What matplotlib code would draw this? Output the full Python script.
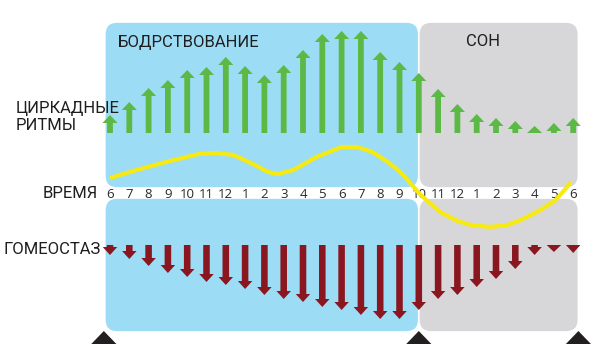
import matplotlib.pyplot as plt
from matplotlib.patches import FancyBboxPatch, Polygon

# hours along the bottom band
hours = ['6', '7', '8', '9', '10', '11', '12', '1', '2', '3', '4', '5', '6', '7', '8', '9',
         '10', '11', '12', '1', '2', '3', '4', '5', '6']
# circadian rhythm arrows (up) and homeostasis arrows (down), lengths in px
circadian = [18, 31, 45, 53, 63, 66, 76, 67, 58, 68, 83, 99, 102, 102, 81, 71, 60, 44, 29, 19, 15, 12, 7, 10, 15]
homeostasis = [10, 14, 21, 28, 32, 37, 40, 44, 50, 54, 57, 62, 65, 70, 74, 74, 65, 54, 50, 42, 34, 24, 10, 7, 8]
# yellow curve, (hour position, level)
curve_x = [0, 1.2, 2.9, 4.6, 5.5, 6.4, 7.3, 8.2, 8.7, 9.5, 10.7, 12.0, 12.8, 13.6, 14.4, 15.1,
           16.1, 17.1, 18.0, 18.7, 19.7, 20.6, 21.4, 22.3, 23.1, 23.9]
curve_y = [15, 22, 31, 39, 40, 38, 30, 21, 19, 23, 36, 46, 46, 41, 31, 20,
           -2, -19, -28, -32, -34, -32, -26, -17, -7, 11]

X0, DX = 110, 19.3  # pixel of first tick, pixels per hour


def px(x):
    return (x - X0) / DX


fig = plt.figure(figsize=(6, 3.59), dpi=100)
ax = fig.add_axes([0, 0, 1, 1])
ax.set_xlim(px(0), px(600))
ax.set_ylim(193 - 359, 193)
ax.axis('off')

blue = '#9ddcf5'
grey = '#d7d7da'
n = len(hours)
pad = 0.27
r = 0.65
for x0, x1, c in [(-pad, 16, blue), (16, n - 1 + pad, grey)]:
    for y0, y1 in [(5, 171), (-139, -5)]:
        ax.add_patch(FancyBboxPatch((x0, y0), x1 - x0, y1 - y0,
                                    boxstyle='round,pad=0,rounding_size=%f' % r,
                                    mutation_aspect=DX, fc=c, ec='white', lw=1.2, zorder=1))

# white band with hours
for i, h in enumerate(hours):
    ax.text(i, -1, h, ha='center', va='center', fontsize=9.5, color='#2a2a2a',
            family='Open Sans', zorder=3)

# circadian arrows
for i, v in enumerate(circadian):
    hl = min(8, v)
    ax.arrow(i, 60, 0, v, width=0.3, head_width=0.78, head_length=hl,
             length_includes_head=True, fc='#5cb946', ec='none', zorder=2)

# homeostasis arrows
for i, v in enumerate(homeostasis):
    hl = min(8, v)
    ax.arrow(i, -52, 0, -v, width=0.34, head_width=0.75, head_length=hl,
             length_includes_head=True, fc='#8a1620', ec='none', zorder=2)

ax.plot(curve_x, curve_y, color='#f6ea12', lw=3, solid_capstyle='butt',
        solid_joinstyle='round', zorder=4)

# black triangles under the boxes
for x in [-0.32, 16, n - 1 + 0.27]:
    ax.add_patch(Polygon([(x - 0.65, -151), (x + 0.65, -151), (x, -138)],
                         closed=True, fc='#231f20', ec='none', zorder=2))

lab = dict(fontsize=12, color='#1e1e1e', family='Roboto', zorder=3)
ax.text(px(118), 151, 'БОДРСТВОВАНИЕ', ha='left', va='center', **lab)
ax.text(px(483), 151, 'СОН', ha='center', va='center', **lab)
ax.text(px(16), 76, 'ЦИРКАДНЫЕ\nРИТМЫ', ha='left', va='center', linespacing=1.15, **lab)
ax.text(px(98), 0, 'ВРЕМЯ', ha='right', va='center', **lab)
ax.text(px(101), -56, 'ГОМЕОСТАЗ', ha='right', va='center', **lab)

fig.savefig('out.png', dpi=100)
